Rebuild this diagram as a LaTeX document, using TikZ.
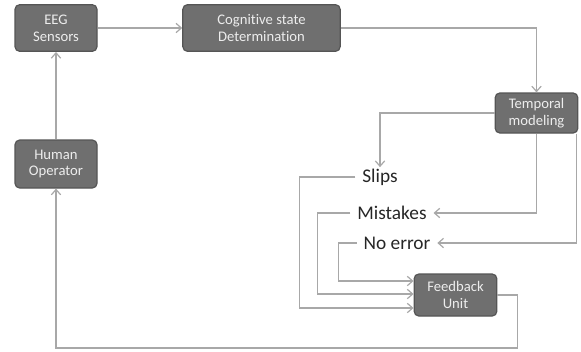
\documentclass[tikz,border=0pt]{standalone}
\usepackage{fontspec}
\setmainfont{Carlito}[Ligatures=NoCommon]
\usetikzlibrary{arrows.meta,calc}
\definecolor{boxfill}{HTML}{6F6F6F}
\definecolor{boxline}{HTML}{555555}
\definecolor{boxtext}{HTML}{EDEDED}
\definecolor{wire}{HTML}{A8A8A8}

\begin{document}
\begin{tikzpicture}[x=0.75pt, y=-0.75pt,
    unit/.style={draw=boxline, line width=0.9pt, fill=boxfill, rounded corners=3.5pt,
        text=boxtext, font=\fontsize{11}{12.5}\selectfont, align=center, inner sep=1pt},
    state/.style={font=\fontsize{14.5}{16}\selectfont, text=black!85, inner xsep=5pt, inner ysep=1pt},
    link/.style={draw=wire, line width=0.9pt, ->},
    >={Straight Barb[length=4pt, width=7pt]}]
    \useasboundingbox (0,0) rectangle (581,351);

    \node[unit, minimum width=61.5pt, minimum height=35pt] (eeg) at (56, 28) {EEG\\Sensors};
    \node[unit, minimum width=118pt, minimum height=35pt] (cog) at (261.5, 28) {Cognitive state\\Determination};
    \node[unit, minimum width=62pt, minimum height=30pt] (temp) at (536.5, 113) {Temporal\\modeling};
    \node[unit, minimum width=62pt, minimum height=31.5pt] (fb) at (455.5, 295) {Feedback\\Unit};
    \node[unit, minimum width=61.5pt, minimum height=36pt] (human) at (56, 164) {Human\\Operator};

    \node[state] (slips) at (380, 177) {Slips};
    \node[state] (mist) at (392, 213) {Mistakes};
    \node[state] (noerr) at (397, 243) {No error};

    \draw[link] (eeg) -- (cog);
    \draw[link] (cog.east) -| (temp.north);
    \draw[link] (temp.west) -| (slips.north);
    \draw[link] (temp.south) |- (mist.east);
    \draw[link] ($(temp.south east)+(-2,0)$) |- (noerr.east);

    \draw[link] (slips.west) -- ++(-56,0) |- ($(fb.west)+(0,13)$);
    \draw[link] (mist.west) -- ++(-33,0) |- ($(fb.west)+(0,-1)$);
    \draw[link] (noerr.west) -- ++(-18,0) |- ($(fb.west)+(0,-14)$);

    \draw[link] (fb.east) -- ++(20,0) -- ++(0,53) -| (human.south);
    \draw[link] (human) -- (eeg);
\end{tikzpicture}
\end{document}
